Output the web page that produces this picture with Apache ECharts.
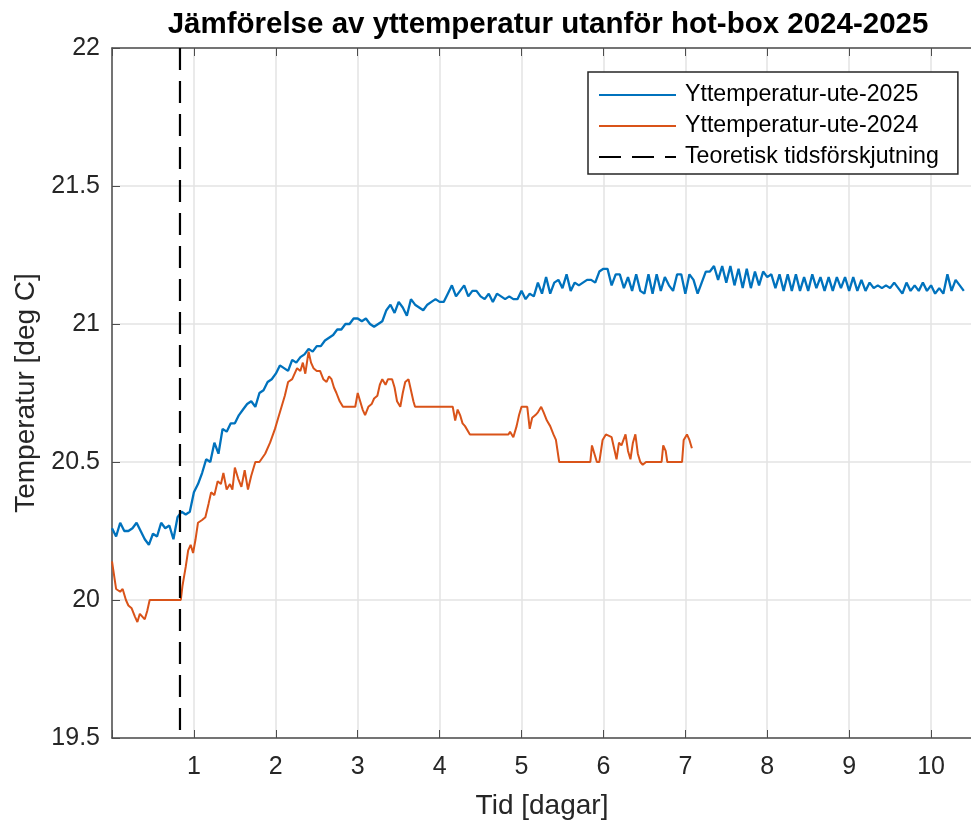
<!DOCTYPE html>
<html>
<head>
<meta charset="utf-8">
<script src="https://cdn.jsdelivr.net/npm/echarts@6/dist/echarts.min.js"></script>
<style>
  html, body { margin: 0; padding: 0; background: #ffffff; }
  #chart { width: 971px; height: 820px; }
</style>
</head>
<body>
<div id="chart"></div>
<script>
// Outdoor surface temperature 2025, sampled every 0.05 days from day 0
const temp2025Step = 0.05;
const temp2025 = [
  20.26, 20.23, 20.28, 20.25, 20.25, 20.26, 20.28, 20.25, 20.22, 20.20,
  20.24, 20.23, 20.28, 20.26, 20.27, 20.22, 20.30, 20.32, 20.31, 20.32,
  20.39, 20.42, 20.46, 20.51, 20.50, 20.57, 20.53, 20.62, 20.61, 20.64,
  20.64, 20.67, 20.69, 20.71, 20.72, 20.70, 20.75, 20.76, 20.79, 20.80,
  20.82, 20.85, 20.84, 20.83, 20.87, 20.86, 20.88, 20.89, 20.91, 20.90,
  20.92, 20.92, 20.94, 20.95, 20.96, 20.98, 20.98, 21.00, 21.00, 21.02,
  21.02, 21.01, 21.02, 21.00, 20.99, 21.00, 21.01, 21.05, 21.07, 21.04,
  21.08, 21.06, 21.03, 21.09, 21.07, 21.06, 21.05, 21.07, 21.08, 21.09,
  21.08, 21.08, 21.11, 21.14, 21.10, 21.12, 21.14, 21.10, 21.12, 21.12,
  21.10, 21.09, 21.11, 21.08, 21.11, 21.10, 21.09, 21.10, 21.09, 21.09,
  21.12, 21.09, 21.11, 21.10, 21.15, 21.11, 21.17, 21.11, 21.15, 21.16,
  21.13, 21.18, 21.12, 21.15, 21.14, 21.15, 21.16, 21.16, 21.15, 21.19,
  21.20, 21.20, 21.14, 21.18, 21.18, 21.13, 21.17, 21.12, 21.18, 21.12,
  21.11, 21.18, 21.11, 21.18, 21.12, 21.17, 21.14, 21.12, 21.18, 21.18,
  21.11, 21.18, 21.16, 21.11, 21.15, 21.19, 21.19, 21.21, 21.16, 21.21,
  21.15, 21.21, 21.14, 21.20, 21.13, 21.20, 21.13, 21.19, 21.14, 21.19,
  21.17, 21.18, 21.13, 21.18, 21.12, 21.18, 21.12, 21.18, 21.12, 21.17,
  21.12, 21.18, 21.13, 21.17, 21.12, 21.17, 21.12, 21.17, 21.13, 21.17,
  21.12, 21.17, 21.12, 21.16, 21.12, 21.15, 21.13, 21.14, 21.13, 21.14,
  21.13, 21.15, 21.13, 21.11, 21.15, 21.12, 21.14, 21.12, 21.15, 21.12,
  21.14, 21.11, 21.13, 21.11, 21.18, 21.12, 21.16, 21.14, 21.12
];

// Outdoor surface temperature 2024 (logged at 0.1 degree resolution)
const days2024 = [
  0.00, 0.03, 0.05, 0.10, 0.13, 0.17, 0.20, 0.24, 0.28, 0.31,
  0.34, 0.37, 0.40, 0.43, 0.46, 0.84, 0.86, 0.90, 0.93, 0.96,
  0.99, 1.02, 1.05, 1.10, 1.14, 1.18, 1.21, 1.25, 1.29, 1.33,
  1.36, 1.40, 1.44, 1.47, 1.50, 1.54, 1.58, 1.62, 1.66, 1.70,
  1.75, 1.80, 1.87, 1.93, 1.99, 2.03, 2.07, 2.11, 2.15, 2.20,
  2.26, 2.30, 2.33, 2.36, 2.40, 2.43, 2.46, 2.50, 2.54, 2.58,
  2.62, 2.65, 2.68, 2.71, 2.74, 2.78, 2.82, 2.97, 3.00, 3.03,
  3.06, 3.09, 3.13, 3.17, 3.20, 3.24, 3.27, 3.30, 3.34, 3.37,
  3.42, 3.45, 3.48, 3.52, 3.55, 3.58, 3.62, 3.65, 3.68, 3.70,
  4.16, 4.19, 4.22, 4.25, 4.28, 4.31, 4.37, 4.84, 4.86, 4.90,
  4.94, 4.97, 5.00, 5.07, 5.10, 5.13, 5.17, 5.20, 5.24, 5.27,
  5.31, 5.35, 5.39, 5.42, 5.46, 5.84, 5.86, 5.89, 5.92, 5.95,
  5.99, 6.03, 6.10, 6.13, 6.16, 6.19, 6.22, 6.27, 6.30, 6.33,
  6.36, 6.39, 6.42, 6.45, 6.48, 6.52, 6.71, 6.73, 6.76, 6.78,
  6.96, 6.98, 7.02, 7.05, 7.08
];
const temp2024 = [
  20.14, 20.08, 20.04, 20.03, 20.04, 20.00, 19.98, 19.97, 19.94, 19.92,
  19.95, 19.94, 19.93, 19.96, 20.00, 20.00, 20.05, 20.12, 20.18, 20.20,
  20.17, 20.22, 20.28, 20.29, 20.30, 20.35, 20.39, 20.38, 20.43, 20.42,
  20.46, 20.40, 20.42, 20.40, 20.48, 20.44, 20.41, 20.47, 20.40, 20.45,
  20.50, 20.50, 20.53, 20.57, 20.62, 20.66, 20.70, 20.74, 20.79, 20.80,
  20.84, 20.83, 20.86, 20.82, 20.90, 20.86, 20.84, 20.83, 20.83, 20.80,
  20.79, 20.81, 20.80, 20.77, 20.75, 20.72, 20.70, 20.70, 20.75, 20.72,
  20.69, 20.67, 20.70, 20.71, 20.73, 20.74, 20.78, 20.80, 20.78, 20.80,
  20.80, 20.77, 20.72, 20.70, 20.75, 20.79, 20.80, 20.76, 20.72, 20.70,
  20.70, 20.65, 20.69, 20.67, 20.64, 20.63, 20.60, 20.60, 20.61, 20.59,
  20.63, 20.67, 20.70, 20.70, 20.62, 20.66, 20.67, 20.68, 20.70, 20.68,
  20.65, 20.63, 20.60, 20.58, 20.50, 20.50, 20.56, 20.53, 20.50, 20.50,
  20.58, 20.60, 20.59, 20.55, 20.51, 20.57, 20.56, 20.60, 20.54, 20.51,
  20.57, 20.60, 20.53, 20.50, 20.49, 20.50, 20.50, 20.56, 20.54, 20.50,
  20.50, 20.58, 20.60, 20.58, 20.55
];

// Theoretical time shift (days)
const timeShift = 0.83;

const yTicks = { min: 19.5, max: 22, step: 0.5 };
const xTicks = { min: 0, max: 10.5, step: 1 };

const seriesNames = [
  'Yttemperatur-ute-2025',
  'Yttemperatur-ute-2024',
  'Teoretisk tidsförskjutning'
];

const FONT = '"Liberation Sans", Arial, Helvetica, sans-serif';
const AXIS_COLOR = '#4d4d4d';
const GRID_COLOR = '#e3e3e3';

const data2025 = temp2025.map((v, i) => [+(i * temp2025Step).toFixed(2), v]);
const data2024 = days2024.map((d, i) => [d, temp2024[i]]);
// drawn top-down so the dash pattern starts at the upper border
const shiftLine = [[timeShift, yTicks.max], [timeShift, yTicks.min]];

const chart = echarts.init(document.getElementById('chart'), null, { renderer: 'canvas' });

chart.setOption({
  animation: false,
  backgroundColor: '#ffffff',
  title: {
    text: 'Jämförelse av yttemperatur utanför hot-box 2024-2025',
    left: 543,
    top: 5,
    textAlign: 'center',
    textStyle: { fontFamily: FONT, fontSize: 29.5, fontWeight: 'bold', color: '#000' }
  },
  grid: {
    left: 112, top: 48, right: -1, bottom: 82,
    containLabel: false,
    outerBoundsMode: 'none'
  },
  legend: {
    orient: 'vertical',
    left: 588,
    top: 72,
    align: 'left',
    itemWidth: 77,
    itemHeight: 14,
    itemGap: 7,
    padding: [11, 19, 5, 10],
    backgroundColor: '#ffffff',
    borderColor: '#262626',
    borderWidth: 1.5,
    // line-only legend keys (no marker dot)
    itemStyle: { color: 'rgba(0,0,0,0)', borderColor: 'rgba(0,0,0,0)', borderWidth: 0 },
    data: seriesNames,
    textStyle: {
      fontFamily: FONT, fontSize: 23.2, color: '#000', lineHeight: 24,
      padding: [0, 0, 0, 4]
    }
  },
  xAxis: [
    {
      type: 'value',
      min: xTicks.min,
      max: xTicks.max,
      interval: xTicks.step,
      position: 'bottom',
      name: 'Tid [dagar]',
      nameLocation: 'middle',
      nameGap: 54,
      nameTextStyle: { fontFamily: FONT, fontSize: 28, color: '#262626' },
      axisLine: { show: true, onZero: false, lineStyle: { color: AXIS_COLOR, width: 1.5 } },
      axisTick: { show: true, inside: true, length: 8, lineStyle: { color: AXIS_COLOR } },
      axisLabel: {
        margin: 17,
        fontFamily: FONT, fontSize: 25, color: '#262626',
        formatter: v => (v > 0 && Number.isInteger(v)) ? String(v) : ''
      },
      splitLine: { show: true, lineStyle: { color: GRID_COLOR, width: 1.5 } }
    },
    {
      type: 'value',
      min: xTicks.min,
      max: xTicks.max,
      interval: xTicks.step,
      position: 'top',
      axisLine: { show: true, onZero: false, lineStyle: { color: AXIS_COLOR, width: 1.5 } },
      axisTick: { show: true, inside: true, length: 8, lineStyle: { color: AXIS_COLOR } },
      axisLabel: { show: false },
      splitLine: { show: false }
    }
  ],
  yAxis: {
    type: 'value',
    min: yTicks.min,
    max: yTicks.max,
    interval: yTicks.step,
    name: 'Temperatur [deg C]',
    nameLocation: 'middle',
    nameGap: 71,
    nameTextStyle: { fontFamily: FONT, fontSize: 28, color: '#262626' },
    axisLine: { show: true, onZero: false, lineStyle: { color: AXIS_COLOR, width: 1.5 } },
    axisTick: { show: true, inside: true, length: 8, lineStyle: { color: AXIS_COLOR } },
    axisLabel: { margin: 12, fontFamily: FONT, fontSize: 25, color: '#262626' },
    splitLine: { show: true, lineStyle: { color: GRID_COLOR, width: 1.5 } }
  },
  series: [
    {
      name: seriesNames[0],
      type: 'line',
      data: data2025,
      symbol: 'none',
      clip: true,
      lineStyle: { color: '#0072BD', width: 2.3 },
      itemStyle: { color: '#0072BD' },
      z: 3
    },
    {
      name: seriesNames[1],
      type: 'line',
      data: data2024,
      symbol: 'none',
      clip: true,
      lineStyle: { color: '#D95319', width: 2 },
      itemStyle: { color: '#D95319' },
      z: 4
    },
    {
      name: seriesNames[2],
      type: 'line',
      data: shiftLine,
      symbol: 'none',
      clip: true,
      lineStyle: { color: '#000000', width: 2.2, type: [22, 11] },
      itemStyle: { color: '#000000' },
      z: 5
    }
  ]
});
</script>
</body>
</html>
